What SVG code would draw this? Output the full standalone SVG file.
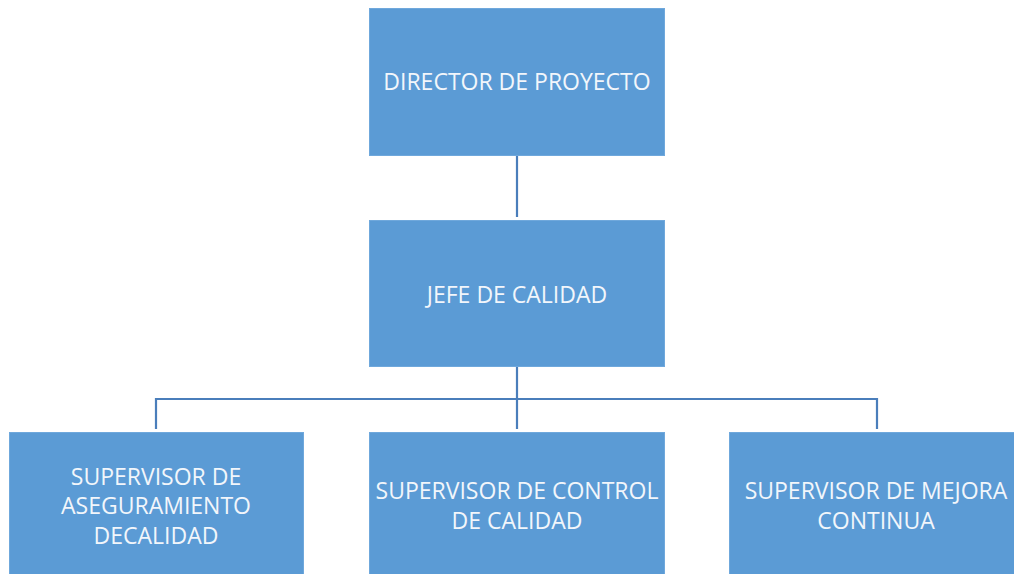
<svg xmlns="http://www.w3.org/2000/svg" width="1014" height="574" viewBox="0 0 1014 574">
<style>
.box{fill:#5B9BD5;stroke:#6FA8DC;stroke-width:1}
.t{font-family:"Open Sans","Liberation Sans",sans-serif;font-size:23px;fill:#F2F6FB;text-anchor:middle;dominant-baseline:central}
.c{fill:none;stroke:#4A7EBB;stroke-width:2.2}
</style>
<rect width="1014" height="574" fill="#FFFFFF"/>
<g id="connectors">
<path class="c" d="M517 156V217"/>
<path class="c" d="M517 367V429"/>
<path class="c" d="M156 429V399H877V429"/>
</g>
<g id="n1"><rect class="box" x="369.5" y="8.5" width="295" height="147"/><text class="t" x="517" y="81">DIRECTOR DE PROYECTO</text></g>
<g id="n2"><rect class="box" x="369.5" y="220.5" width="295" height="146"/><text class="t" x="517" y="294">JEFE DE CALIDAD</text></g>
<g id="n3"><rect class="box" x="9.5" y="432.5" width="294" height="150"/><text class="t" x="156" y="476">SUPERVISOR DE</text><text class="t" x="156" y="505">ASEGURAMIENTO</text><text class="t" x="156" y="535">DECALIDAD</text></g>
<g id="n4"><rect class="box" x="369.5" y="432.5" width="295" height="150"/><text class="t" x="517" y="490">SUPERVISOR DE CONTROL</text><text class="t" x="517" y="520">DE CALIDAD</text></g>
<g id="n5"><rect class="box" x="729.5" y="432.5" width="295" height="150"/><text class="t" x="876" y="490">SUPERVISOR DE MEJORA</text><text class="t" x="876" y="520">CONTINUA</text></g>
</svg>
